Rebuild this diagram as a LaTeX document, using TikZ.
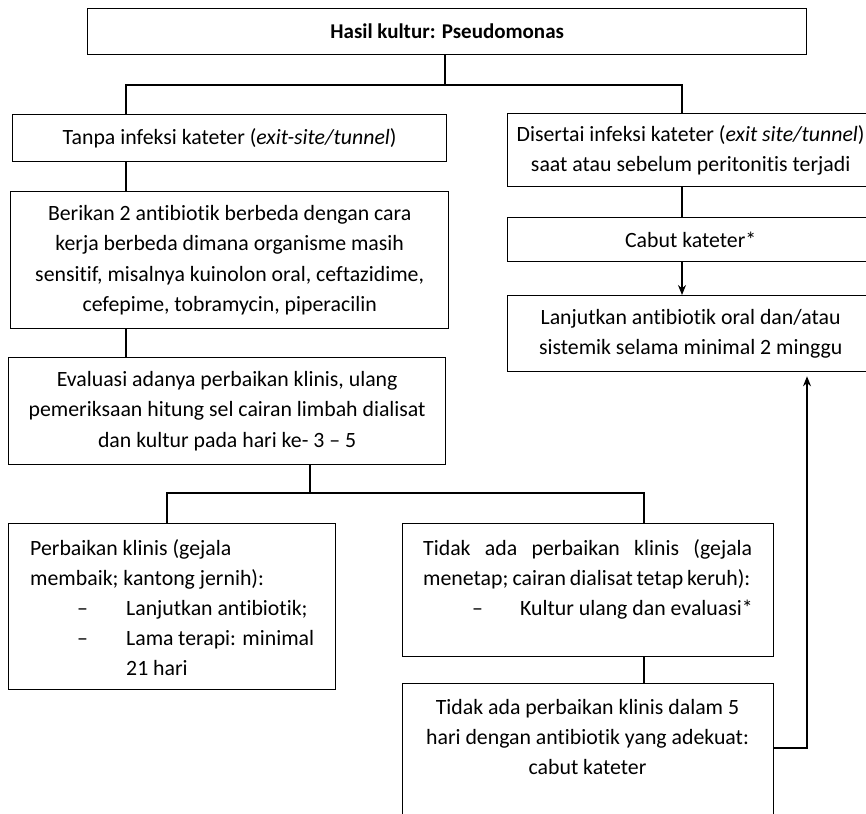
\documentclass[tikz,border=0pt]{standalone}
\usepackage{fontspec}
\setmainfont{Carlito}[Ligatures={TeX,CommonOff}]
\usetikzlibrary{arrows.meta}
\begin{document}
\begin{tikzpicture}[x=1pt,y=-1pt,
  box/.style={draw, line width=1.3pt, rectangle, inner sep=0pt, anchor=north west, align=center,
    font=\fontsize{21.8}{30.5}\selectfont},
  txt/.style={inner sep=0pt, font=\fontsize{21.8}{30}\selectfont},
  conn/.style={line width=1.3pt},
  arr/.style={line width=1.3pt, -{Stealth[length=10pt,width=8pt]}}]
\useasboundingbox (0,0) rectangle (866,813);
\clip (0,0) rectangle (866,813);
% boxes
\node[box, minimum width=719pt, minimum height=46pt, font=\fontsize{21}{30}\selectfont\bfseries] (top) at (87,8) {Hasil kultur: Pseudomonas};
\node[box, minimum width=434pt, minimum height=47pt] (tanpa) at (12,114) {Tanpa infeksi kateter (\textit{exit-site/tunnel})};
\node[box, minimum width=366pt, minimum height=73pt] (disertai) at (507,113) {Disertai infeksi kateter (\textit{exit site/tunnel})\\saat atau sebelum peritonitis terjadi};
\node[box, minimum width=438pt, minimum height=137pt] (berikan) at (10,191) {Berikan 2 antibiotik berbeda dengan cara\\kerja berbeda dimana organisme masih\\sensitif, misalnya kuinolon oral, ceftazidime,\\cefepime, tobramycin, piperacilin};
\node[box, minimum width=366pt, minimum height=44pt] (cabut) at (507,217) {Cabut kateter*};
\node[box, minimum width=366pt, minimum height=76pt] (lanjut) at (507,295) {Lanjutkan antibiotik oral dan/atau\\sistemik selama minimal 2 minggu};
\node[box, minimum width=437pt, minimum height=107pt] (evaluasi) at (8,357) {Evaluasi adanya perbaikan klinis, ulang\\pemeriksaan hitung sel cairan limbah dialisat\\dan kultur pada hari ke- 3 -- 5};
\node[box, minimum width=327pt, minimum height=166pt] (perb) at (8,523) {};
\node[box, minimum width=371pt, minimum height=133pt] (tidakA) at (402,523) {};
\node[box, minimum width=371pt, minimum height=150pt] (tidakB) at (402,683) {};
% texts of perb
\node[txt, anchor=base west] (p1) at (30,555) {Perbaikan klinis (gejala};
\node[txt, anchor=base west] (p2) at (30,585) {membaik; kantong jernih):};
\node[txt, anchor=base west] (p3d) at (77,615) {--};
\node[txt, anchor=base west] (p3) at (126,615) {Lanjutkan antibiotik;};
\node[txt, anchor=base west] (p4d) at (77,645) {--};
\node[txt, anchor=base west] (p4) at (126,645) {\makebox[188pt][s]{Lama terapi: minimal}};
\node[txt, anchor=base west] (p5) at (126,675) {21 hari};
% texts of tidakA
\node[txt, anchor=base west] (a1) at (423,555) {\makebox[329pt][s]{Tidak ada perbaikan klinis (gejala}};
\node[txt, anchor=base west] (a2) at (423,585) {\makebox[327pt][s]{menetap; cairan dialisat tetap keruh):}};
\node[txt, anchor=base west] (a3d) at (472,615) {--};
\node[txt, anchor=base west] (a3) at (520,615) {Kultur ulang dan evaluasi*};
% texts of tidakB
\node[txt, anchor=base] (b1) at (587.5,714) {Tidak ada perbaikan klinis dalam 5};
\node[txt, anchor=base] (b2) at (587.5,744) {hari dengan antibiotik yang adekuat:};
\node[txt, anchor=base] (b3) at (587.5,774) {cabut kateter};
% junction coordinates
\coordinate (jA) at (126,85);
\coordinate (jB) at (682,85);
\coordinate (jE) at (310,493);
\coordinate (jC) at (167,493);
\coordinate (jD) at (644,493);
\coordinate (jF) at (807,748);
% connectors
\draw[conn] (top.south -| 445,0) -- (445,85);
\draw[conn] (tanpa.north -| jA) |- (jB) -- (disertai.north -| jB);
\draw[conn] (tanpa.south -| jA) -- (berikan.north -| jA);
\draw[conn] (berikan.south -| jA) -- (evaluasi.north -| jA);
\draw[conn] (disertai.south -| jB) -- (cabut.north -| jB);
\draw[arr] (cabut.south -| jB) -- (lanjut.north -| jB);
\draw[conn] (evaluasi.south -| jE) -- (jE);
\draw[conn] (perb.north -| jC) |- (jD) -- (tidakA.north -| jD);
\draw[conn] (tidakA.south -| jD) -- (tidakB.north -| jD);
\draw[arr, shorten >=4pt] (tidakB.east |- jF) -| (lanjut.south -| jF);
\end{tikzpicture}
\end{document}
